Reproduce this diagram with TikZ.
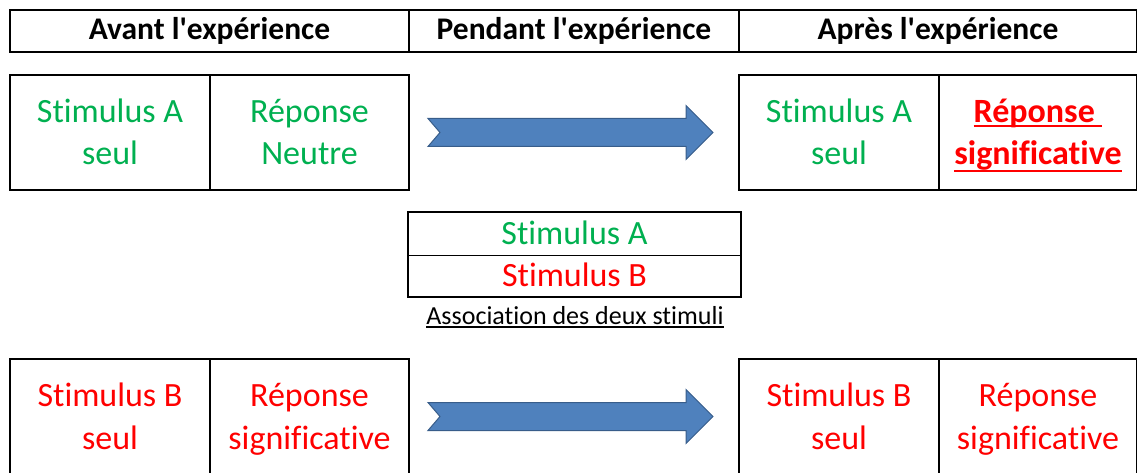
\documentclass[tikz,border=0pt]{standalone}
\usepackage{fontspec}
\setmainfont{Carlito}[Ligatures={TeXOff,NoCommon}]
\usetikzlibrary{calc}

\definecolor{stimA}{HTML}{00B050}
\definecolor{stimB}{HTML}{FF0000}
\definecolor{arrowfill}{HTML}{4F81BD}
\definecolor{arrowedge}{HTML}{385D8A}

% struts giving every text line the same height and depth
\newcommand\cstrut{\rule[-10.5pt]{0pt}{43pt}}
\newcommand\hstrut{\rule[-10.5pt]{0pt}{38pt}}
% underline at a fixed depth below the baseline: depth, thickness, text
\newcommand\ulbox[3]{\setbox0\hbox{#3}\rlap{\rule[-#1]{\wd0}{#2}}\box0}

% notched block arrow running between two boxes
\newcommand\blockarrow[2]{%
  \draw[fatarrow] ($(#1.east)+(19,-14)$) -- ($(#2.west)+(-53,-14)$)
    -- ($(#2.west)+(-53,-27)$) -- ($(#2.west)+(-26,0)$)
    -- ($(#2.west)+(-53,27)$) -- ($(#2.west)+(-53,14)$)
    -- ($(#1.east)+(19,14)$) -- ($(#1.east)+(31,0)$) -- cycle;}

\begin{document}
\begin{tikzpicture}[x=1pt,y=-1pt,
  cell/.style={rectangle, inner sep=0pt, outer sep=0pt, anchor=north west,
    align=center, minimum height=115pt, font=\fontsize{34}{43}\selectfont},
  head/.style={cell, draw=black, line width=2.2pt, minimum height=42pt,
    font=\fontsize{31.5}{38}\selectfont\bfseries},
  pair/.style={cell, minimum height=41pt, minimum width=333pt},
  outer/.style={draw=black, line width=2.4pt},
  inner/.style={draw=black, line width=1.2pt},
  fatarrow/.style={fill=arrowfill, draw=arrowedge, line width=1pt, line join=miter},
]
\useasboundingbox (0,0) rectangle (1137,473);
\clip (0,0) rectangle (1137,473);

% column headings
\node[head, minimum width=399pt] (h1) at (10,10) {\hstrut Avant l'expérience};
\node[head, minimum width=330pt] (h2) at (409,10) {\hstrut Pendant l'expérience};
\node[head, minimum width=398pt] (h3) at (739,10) {\hstrut Après l'expérience};

% first row: stimulus A
\node[cell, text=stimA, minimum width=200pt] (a1) at (10,75) {\cstrut Stimulus A\\\cstrut seul};
\node[cell, text=stimA, minimum width=199pt] (a2) at (210,75) {\cstrut Réponse\\\cstrut Neutre};
\draw[outer] (a1.north west) rectangle (a2.south east);
\draw[inner] (a1.north east) -- (a1.south east);

\node[cell, text=stimA, minimum width=200pt] (b1) at (739,75) {\cstrut Stimulus A\\\cstrut seul};
\node[cell, text=stimB, minimum width=198pt, font=\fontsize{34}{43}\selectfont\bfseries] (b2) at (939,75)
  {\ulbox{5pt}{2.4pt}{\cstrut Réponse\hspace{0.22em}}\\\ulbox{7pt}{2.4pt}{\cstrut significative}};
\draw[outer] (b1.north west) rectangle (b2.south east);
\draw[inner] (b1.north east) -- (b1.south east);

\blockarrow{a2}{b1}

% association of the two stimuli
\node[pair, text=stimA] (c1) at (408,212) {\cstrut Stimulus A};
\node[pair, text=stimB, minimum height=44pt] (c2) at (408,253) {\cstrut Stimulus B};
\draw[draw=black, line width=2pt] (c1.north west) rectangle (c2.south east);
\draw[draw=black, line width=1pt] (c1.south west) -- (c1.south east);
\node[font=\fontsize{26}{31}\selectfont, anchor=base, inner sep=0pt] (assoc) at (575,324)
  {\ulbox{3.5pt}{1.8pt}{Association des deux stimuli}};

% second row: stimulus B
\node[cell, text=stimB, minimum width=200pt] (d1) at (10,359) {\cstrut Stimulus B\\\cstrut seul};
\node[cell, text=stimB, minimum width=199pt] (d2) at (210,359) {\cstrut Réponse\\\cstrut significative};
\draw[outer] (d1.north west) rectangle (d2.south east);
\draw[inner] (d1.north east) -- (d1.south east);

\node[cell, text=stimB, minimum width=200pt] (e1) at (739,359) {\cstrut Stimulus B\\\cstrut seul};
\node[cell, text=stimB, minimum width=198pt] (e2) at (939,359) {\cstrut Réponse\\\cstrut significative};
\draw[outer] (e1.north west) rectangle (e2.south east);
\draw[inner] (e1.north east) -- (e1.south east);

\blockarrow{d2}{e1}
\end{tikzpicture}
\end{document}
